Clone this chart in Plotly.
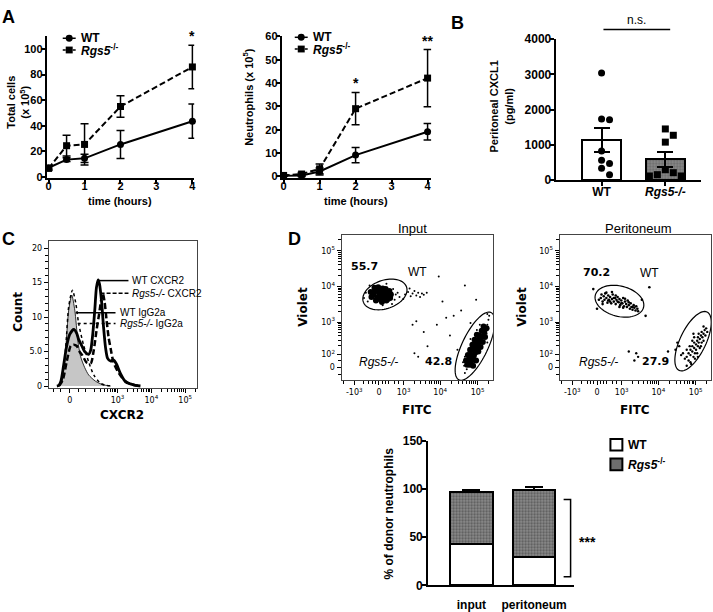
import math
import plotly.graph_objects as go

W, H = 713, 612
def PX(px): return px / W
def PY(py): return 1 - py / H

ARIAL = "Liberation Sans"
FLOW = "DejaVu Sans"

# ---------------- Data: panel A ----------------
time_hours = [0, 0.5, 1, 2, 4]
total_wt = [7.0, 13.4, 14.4, 25.3, 43.5]
total_wt_sem = [1.0, 1.5, 3.2, 11.0, 13.4]
total_ko = [6.5, 24.3, 25.3, 55.0, 86.0]
total_ko_sem = [1.5, 8.1, 16.2, 8.5, 17.0]
neut_wt = [0.3, 0.4, 2.1, 9.1, 19.1]
neut_wt_sem = [0.3, 0.5, 1.5, 3.3, 3.5]
neut_ko = [0.4, 1.0, 3.2, 29.0, 42.1]
neut_ko_sem = [0.3, 0.7, 2.1, 6.9, 12.3]

# ---------------- Data: panel B ----------------
cxcl1_groups = ["WT", "<i>Rgs5-/-</i>"]
cxcl1_mean = [1130, 590]
cxcl1_sem = [340, 210]
cxcl1_wt_points = [3040, 1730, 1710, 820, 560, 470, 330, 150]
cxcl1_ko_points = [1450, 1270, 1075, 290, 150, 112, 112, 206]

# ---------------- Data: panel C (display units of CXCR2 axis, counts) ----------------
igg_wt_t = [-0.35, -0.26, -0.21, -0.12, -0.03, 0.06, 0.15, 0.24, 0.32, 0.44, 0.56, 0.76, 0.97, 1.21]
igg_wt_count = [0, 0.3, 1.5, 5.4, 11, 13.2, 11, 6.6, 4.3, 2.7, 1.6, 0.7, 0.2, 0]
igg_ko_t = [-0.35, -0.26, -0.21, -0.12, -0.03, 0.08, 0.18, 0.26, 0.41, 0.56, 0.71, 0.91, 1.06, 1.26]
igg_ko_count = [0, 0.3, 1.5, 5.5, 11.5, 13.9, 12, 9.2, 5.9, 3.5, 1.6, 0.4, 0.1, 0]
cxcr2_wt_t = [-0.38, -0.32, -0.26, -0.18, -0.09, 0.0, 0.12, 0.21, 0.26, 0.35, 0.44, 0.56, 0.62, 0.68,
              0.74, 0.79, 0.84, 0.88, 0.94, 1.0, 1.06, 1.12, 1.21, 1.29, 1.38, 1.5, 1.65, 1.79, 1.94, 2.09]
cxcr2_wt_count = [0, 0.1, 0.7, 3, 5.8, 7.5, 8.2, 7.6, 6.8, 5.9, 5.0, 4.6, 5.2, 7.5, 11, 14.3, 15.4, 14.8,
                  12.3, 8.5, 5.5, 4.0, 3.6, 3.8, 3.2, 1.8, 0.6, 0.3, 0.1, 0]
cxcr2_ko_t = [-0.32, -0.21, -0.09, 0.03, 0.12, 0.21, 0.29, 0.38, 0.5, 0.62, 0.71, 0.79, 0.87, 0.93, 0.98,
              1.03, 1.09, 1.15, 1.21, 1.29, 1.41, 1.53, 1.65, 1.79, 1.94, 2.09]
cxcr2_ko_count = [0, 0.8, 3.5, 5.8, 6.0, 5.8, 5.0, 4.4, 3.4, 3.3, 5.2, 8, 10.5, 12.5, 13.4, 12.2, 9.5, 7,
                  5.4, 3.5, 2.2, 1.3, 0.7, 0.3, 0.1, 0]

# ---------------- Data: panel D dot plots (display units: FITC, Violet) ----------------
input_wt_core = [(-0.15, 2.05), (-0.1, 2.15), (-0.05, 1.95), (0.0, 2.1), (0.0, 2.0), (0.05, 2.18), (0.05, 1.9),
                 (0.1, 2.05), (0.12, 1.95), (0.15, 2.12), (0.2, 2.0), (0.2, 1.88), (0.25, 2.08), (-0.08, 1.88),
                 (0.3, 1.95), (0.1, 2.22), (-0.2, 1.98), (0.18, 2.2), (0.28, 2.15), (-0.02, 2.25),
                 (-0.22, 2.12), (0.32, 2.05), (0.08, 1.84), (-0.12, 2.24), (0.24, 1.92)]
input_wt_sparse = [(-0.35, 2.1), (-0.3, 1.85), (0.38, 2.2), (0.42, 1.9), (0.35, 1.78), (-0.25, 2.3), (0.1, 1.75),
                   (0.45, 2.05), (-0.4, 1.95), (0.2, 2.35), (0.5, 2.1), (0.55, 1.98), (0.7, 2.05), (0.78, 2.12),
                   (0.85, 2.0), (0.9, 2.08), (0.95, 2.15), (1.0, 2.02), (1.05, 2.1), (1.1, 1.98), (1.15, 2.08),
                   (1.2, 2.04), (1.28, 2.1), (0.82, 2.22), (0.65, 1.92), (1.6, 2.55), (1.7, 1.85), (1.55, 1.2),
                   (1.0, 1.3), (0.9, 1.2), (1.2, 1.0), (1.9, 0.9), (2.0, 1.45), (2.2, 1.6), (1.8, 1.4),
                   (1.3, 0.6), (0.95, 0.4), (1.05, 0.3), (2.3, 2.3), (2.45, 1.25), (2.6, 1.9), (2.9, 1.5), (2.1, 0.5)]
input_ko_core = [(2.36, 0.08), (2.43, 0.08), (2.4, 0.22), (2.48, 0.2), (2.46, 0.36), (2.54, 0.34), (2.52, 0.5),
                 (2.6, 0.48), (2.57, 0.62), (2.65, 0.6), (2.63, 0.76), (2.7, 0.74), (2.68, 0.9), (2.76, 0.88),
                 (2.75, 1.03), (2.82, 1.0), (2.5, 0.28), (2.58, 0.42), (2.62, 0.68), (2.7, 0.82), (2.44, 0.14),
                 (2.56, 0.55), (2.33, 0.2), (2.38, 0.35), (2.44, 0.5), (2.5, 0.64), (2.56, 0.78), (2.62, 0.92),
                 (2.66, 0.45), (2.72, 0.58), (2.78, 0.72), (2.84, 0.86), (2.6, 0.2), (2.52, 0.05), (2.88, 1.1),
                 (2.8, 1.15)]
input_ko_sparse = [(2.3, -0.15), (2.28, 0.05), (2.9, 1.2), (2.93, 1.34), (2.85, 1.15), (2.4, 0.45), (2.75, 0.55),
                   (2.88, 0.95), (2.5, 0.7), (2.3, 0.3), (2.95, 1.45), (2.8, 0.7), (2.35, -0.05), (2.62, 1.05),
                   (2.25, 0.15), (2.9, 0.7), (2.45, 0.8), (2.7, 1.2)]
perit_wt = [(0.1, 1.95), (0.12, 2.05), (0.15, 1.85), (0.18, 2.0), (0.2, 1.9), (0.22, 2.08), (0.25, 1.95),
            (0.28, 1.82), (0.3, 2.02), (0.32, 1.9), (0.35, 1.98), (0.38, 1.8), (0.4, 1.92), (0.42, 2.05),
            (0.45, 1.85), (0.48, 1.95), (0.5, 1.78), (0.52, 1.9), (0.55, 1.98), (0.58, 1.83), (0.6, 1.92),
            (0.62, 1.75), (0.65, 1.88), (0.68, 1.8), (0.7, 1.95), (0.72, 1.72), (0.75, 1.85), (0.78, 1.78),
            (0.8, 1.7), (0.82, 1.88), (0.85, 1.75), (0.88, 1.65), (0.9, 1.8), (0.92, 1.7), (0.95, 1.62),
            (0.98, 1.75), (1.0, 1.68), (1.03, 1.6), (1.05, 1.72), (1.08, 1.65), (1.1, 1.58), (0.3, 1.88),
            (0.45, 1.95), (0.55, 1.85), (0.65, 1.8), (0.25, 2.1), (0.35, 1.85), (0.5, 2.02), (0.6, 1.7),
            (0.75, 1.93), (0.05, 1.9), (0.15, 1.78), (0.4, 2.12), (0.85, 1.83), (0.7, 1.68), (0.95, 1.7),
            (1.4, 2.25), (-0.1, 2.2), (1.2, 1.9), (0.0, 1.65), (1.3, 1.45)]
perit_ko = [(2.4, 0.3), (2.45, 0.4), (2.5, 0.35), (2.5, 0.5), (2.55, 0.45), (2.55, 0.6), (2.6, 0.55), (2.6, 0.7),
            (2.62, 0.4), (2.65, 0.65), (2.65, 0.5), (2.68, 0.75), (2.7, 0.6), (2.7, 0.85), (2.72, 0.7),
            (2.75, 0.8), (2.75, 0.55), (2.78, 0.9), (2.8, 0.7), (2.8, 1.0), (2.82, 0.85), (2.85, 0.95),
            (2.85, 0.75), (2.88, 1.05), (2.9, 0.9), (2.45, 0.2), (2.5, 0.15), (2.58, 0.3), (2.68, 0.4),
            (2.72, 0.95), (2.6, 0.85), (2.92, 1.1), (2.4, 0.5), (2.35, 0.25), (2.55, 0.75), (2.78, 0.6),
            (2.62, 0.25), (2.7, 0.3), (2.48, 0.6), (2.95, 1.0), (2.3, 0.4), (2.58, 0.95), (2.85, 1.15),
            (2.4, 0.05), (2.52, 0.1), (2.2, 0.6), (2.1, 0.5), (2.15, 0.7), (1.9, 0.45), (2.25, 0.35),
            (1.05, 0.4), (1.1, 0.3), (1.0, 0.2), (0.85, 0.45)]
gate_pct = {"input_wt": "55.7", "input_ko": "42.8", "perit_wt": "70.2", "perit_ko": "27.9"}

# ---------------- Data: panel D bar chart ----------------
donor_groups = ["input", "peritoneum"]
donor_wt = [42.5, 29.5]
donor_wt_sem = [0.0, 1.0]
donor_ko = [54.9, 70.0]
donor_ko_sem = [1.2, 2.3]

# ---------------- transforms ----------------
LN10 = math.log(10)
def t_c(v): return math.asinh(v / (2 * 38.8)) / LN10
def t_fitc(v): return math.asinh(v / (2 * 229)) / LN10
def t_violet(v): return math.asinh(v / (2 * 53)) / LN10

fig = go.Figure()

def ebar(arr, w=4, th=1.5, minus=None):
    d = dict(type='data', array=arr, visible=True, color='black', thickness=th, width=w)
    if minus is not None:
        d.update(symmetric=False, arrayminus=minus)
    return d

DASH = "6px,3px"
# ---- A1
fig.add_trace(go.Scatter(x=time_hours, y=total_wt, error_y=ebar(total_wt_sem), mode='lines+markers',
                         line=dict(color='black', width=2), marker=dict(symbol='circle', size=7, color='black'),
                         cliponaxis=False, xaxis='x', yaxis='y'))
fig.add_trace(go.Scatter(x=time_hours, y=total_ko, error_y=ebar(total_ko_sem), mode='lines+markers',
                         line=dict(color='black', width=2, dash=DASH), marker=dict(symbol='square', size=7, color='black'),
                         cliponaxis=False, xaxis='x', yaxis='y'))
# ---- A2
fig.add_trace(go.Scatter(x=time_hours, y=neut_wt, error_y=ebar(neut_wt_sem), mode='lines+markers',
                         line=dict(color='black', width=2), marker=dict(symbol='circle', size=7, color='black'),
                         cliponaxis=False, xaxis='x2', yaxis='y2'))
fig.add_trace(go.Scatter(x=time_hours, y=neut_ko, error_y=ebar(neut_ko_sem), mode='lines+markers',
                         line=dict(color='black', width=2, dash=DASH), marker=dict(symbol='square', size=7, color='black'),
                         cliponaxis=False, xaxis='x2', yaxis='y2'))

# ---- B
PATTERN_GRAY = '#8c8c8c'
fig.add_trace(go.Bar(x=[0, 1], y=cxcl1_mean, width=0.62,
                     marker=dict(color=['white', PATTERN_GRAY], line=dict(color='black', width=2),
                                 pattern=dict(shape=['', '.'], fgcolor='#2a2a2a', size=3, solidity=0.45,
                                              fillmode='overlay')),
                     error_y=ebar(cxcl1_sem, w=8, th=2), xaxis='x3', yaxis='y3'))

B_YSCALE = 143.0 / 4000.0   # px per unit
B_XSCALE = 64.0             # px per category unit
def swarm(vals, d=8.0):
    placed = []
    offs = [0.0] * len(vals)
    order = sorted(range(len(vals)), key=lambda i: -vals[i])
    for i in order:
        y = vals[i] * B_YSCALE
        for k in [0, 1, -1, 2, -2, 3, -3]:
            x = k * d
            if all((x - px) ** 2 + (y - py) ** 2 >= d * d for px, py in placed):
                break
        placed.append((x, y))
        offs[i] = x / B_XSCALE
    return offs

wo = swarm(cxcl1_wt_points)
ko = swarm(cxcl1_ko_points)
fig.add_trace(go.Scatter(x=[0 + o for o in wo], y=cxcl1_wt_points, mode='markers',
                         marker=dict(symbol='circle', size=7, color='black'), cliponaxis=False,
                         xaxis='x3', yaxis='y3'))
fig.add_trace(go.Scatter(x=[1 + o for o in ko], y=cxcl1_ko_points, mode='markers',
                         marker=dict(symbol='square', size=7, color='black'), cliponaxis=False,
                         xaxis='x3', yaxis='y3'))

# ---- C
fig.add_trace(go.Scatter(x=igg_wt_t, y=igg_wt_count, mode='lines', fill='tozeroy', fillcolor='#c6c6c6',
                         line=dict(color='black', width=0.8, shape='spline', smoothing=0.7),
                         xaxis='x4', yaxis='y4'))
fig.add_trace(go.Scatter(x=igg_ko_t, y=igg_ko_count, mode='lines',
                         line=dict(color='black', width=1.5, dash='dot', shape='spline', smoothing=0.7),
                         xaxis='x4', yaxis='y4'))
fig.add_trace(go.Scatter(x=cxcr2_ko_t, y=cxcr2_ko_count, mode='lines',
                         line=dict(color='black', width=2.5, dash='6px,3px', shape='spline', smoothing=0.7),
                         xaxis='x4', yaxis='y4'))
fig.add_trace(go.Scatter(x=cxcr2_wt_t, y=cxcr2_wt_count, mode='lines',
                         line=dict(color='black', width=2.8, shape='spline', smoothing=0.7),
                         xaxis='x4', yaxis='y4'))

# ---- D dot plots
def dots(pts, size, xa, ya):
    return go.Scatter(x=[p[0] for p in pts], y=[p[1] for p in pts], mode='markers',
                      marker=dict(size=size, color='black', line=dict(width=0)), xaxis=xa, yaxis=ya)
fig.add_trace(dots(input_wt_core, 6, 'x5', 'y5'))
fig.add_trace(dots(input_wt_sparse, 2, 'x5', 'y5'))
fig.add_trace(dots(input_ko_core, 6, 'x5', 'y5'))
fig.add_trace(dots(input_ko_sparse, 2, 'x5', 'y5'))
fig.add_trace(dots(perit_wt, 2.6, 'x6', 'y6'))
fig.add_trace(dots(perit_ko, 2.4, 'x6', 'y6'))

# ---- D bar chart
fig.add_trace(go.Bar(x=[0, 1], y=donor_wt, width=0.68,
                     marker=dict(color='white', line=dict(color='black', width=2)),
                     error_y=ebar(donor_wt_sem, w=9, th=2, minus=[0, 0]), xaxis='x7', yaxis='y7'))
fig.add_trace(go.Bar(x=[0, 1], y=donor_ko, width=0.68,
                     marker=dict(color=PATTERN_GRAY, line=dict(color='black', width=2),
                                 pattern=dict(shape='.', fgcolor='#2a2a2a', size=3, solidity=0.45,
                                              fillmode='overlay')),
                     error_y=ebar(donor_ko_sem, w=9, th=2, minus=[0, 0]), xaxis='x7', yaxis='y7'))

# ---------------- axes ----------------
def prism(domain, rng, anchor, tickvals, ticktext=None, size=11, standoff=0):
    labels = ticktext if ticktext is not None else [str(v) for v in tickvals]
    d = dict(domain=domain, range=rng, anchor=anchor, showline=True, linewidth=2, linecolor='black',
             ticks='outside', ticklen=4, tickwidth=2, tickcolor='black', showgrid=False, zeroline=False,
             tickmode='array', tickvals=tickvals, ticktext=["<b>%s</b>" % s for s in labels],
             ticklabelstandoff=standoff,
             tickfont=dict(family=ARIAL, size=size, color='black'))
    return d

def flow(domain, rng, anchor, major_v, major_text, minor_v):
    return dict(domain=domain, range=rng, anchor=anchor, showline=True, linewidth=1, linecolor='#444',
                mirror=True, ticks='outside', ticklen=4, tickwidth=1, tickcolor='black', showgrid=False,
                zeroline=False, tickmode='array', tickvals=major_v, ticktext=major_text,
                minor=dict(tickmode='array', tickvals=minor_v, ticklen=2.5, tickwidth=1, tickcolor='black',
                           ticks='outside', showgrid=False),
                tickfont=dict(family=FLOW, size=8, color='black'))

def sup(e): return "10<sup>%d</sup>" % e

c_major = [0, 1e3, 1e4, 1e5]
c_minor = [-300, -200, -100, -50, 50, 100, 200, 300, 400, 500, 600, 700, 800, 900] + \
          [k * 1e3 for k in range(2, 10)] + [k * 1e4 for k in range(2, 10)] + [2e5]
fitc_major = [-1e3, 0, 1e3, 1e4, 1e5]
fitc_minor = [-2000, -500, -300, -200, -100, 100, 200, 300, 500, 700] + \
             [k * 1e3 for k in range(2, 10)] + [k * 1e4 for k in range(2, 10)] + [2e5]
vio_major = [-1e2, 0, 1e2, 1e3, 1e4, 1e5]
vio_minor = [-50, 50] + [k * 1e2 for k in range(2, 10)] + [k * 1e3 for k in range(2, 10)] + \
            [k * 1e4 for k in range(2, 10)] + [2e5]

layout = dict(
    width=W, height=H, margin=dict(l=0, r=0, t=0, b=0), paper_bgcolor='white', plot_bgcolor='white',
    showlegend=False, barmode='stack',
    xaxis=prism([PX(46), PX(194)], [-0.05, 4.05], 'y', [0, 1, 2, 3, 4], standoff=-7),
    yaxis=prism([PY(175), PY(30)], [-1, 110], 'x', [0, 20, 40, 60, 80, 100], standoff=-4),
    xaxis2=prism([PX(282), PX(432)], [-0.05, 4.1], 'y2', [0, 1, 2, 3, 4], standoff=-7),
    yaxis2=prism([PY(175), PY(30)], [-0.7, 60], 'x2', [0, 10, 20, 30, 40, 50, 60], standoff=-4),
    xaxis3=prism([PX(557), PX(703)], [-0.72, 1.56], 'y3', [0, 1], cxcl1_groups, size=12, standoff=-4),
    yaxis3=prism([PY(177), PY(33)], [0, 4000], 'x3', [0, 1000, 2000, 3000, 4000], size=12, standoff=-4),
    xaxis4=flow([PX(48), PX(197)], [-0.618, 3.765], 'y4', [t_c(v) for v in c_major],
                ["0", sup(3), sup(4), sup(5)], [t_c(v) for v in c_minor]),
    yaxis4=flow([PY(390), PY(239)], [-0.3, 21.1], 'x4', [0, 5, 10, 15, 20],
                ["0", "5.0", "10", "15", "20"], list(range(1, 21))),
    xaxis5=flow([PX(342), PX(494)], [-1.0, 3.05], 'y5', [t_fitc(v) for v in fitc_major],
                ["-" + sup(3), "0", sup(3), sup(4), sup(5)], [t_fitc(v) for v in fitc_minor]),
    yaxis5=flow([PY(382), PY(233)], [-0.356, 3.726], 'x5', [t_violet(v) for v in vio_major],
                ["-" + sup(2), "0", sup(2), sup(3), sup(4), sup(5)], [t_violet(v) for v in vio_minor]),
    xaxis6=flow([PX(561), PX(713)], [-1.0, 3.05], 'y6', [t_fitc(v) for v in fitc_major],
                ["-" + sup(3), "0", sup(3), sup(4), sup(5)], [t_fitc(v) for v in fitc_minor]),
    yaxis6=flow([PY(382), PY(233)], [-0.356, 3.726], 'x6', [t_violet(v) for v in vio_major],
                ["-" + sup(2), "0", sup(2), sup(3), sup(4), sup(5)], [t_violet(v) for v in vio_minor]),
    xaxis7=prism([PX(429), PX(575)], [-0.69, 1.63], 'y7', [0, 1], donor_groups, size=12, standoff=7),
    yaxis7=prism([PY(592), PY(444)], [0, 150], 'x7', [0, 50, 100, 150], size=12, standoff=-3),
)
layout['xaxis7']['ticks'] = ''
fig.update_layout(**layout)

# ---------------- shapes & annotations ----------------
shapes = []
ann = []

def text(px, py, s, size=11, family=ARIAL, xanchor='center', yanchor='middle', angle=0, bold=False, italic=False):
    if bold:
        s = "<b>" + s + "</b>"
    if italic:
        s = "<i>" + s + "</i>"
    ann.append(dict(x=PX(px), y=PY(py), xref='paper', yref='paper', text=s, showarrow=False,
                    xanchor=xanchor, yanchor=yanchor, textangle=angle,
                    font=dict(family=family, size=size, color='black')))

def line(x0, y0, x1, y1, width=1.5, dash='solid'):
    shapes.append(dict(type='line', xref='paper', yref='paper', x0=PX(x0), y0=PY(y0), x1=PX(x1), y1=PY(y1),
                       line=dict(color='black', width=width, dash=dash)))

def box(cx, cy, w, h, kind='rect', fill='black', lw=0):
    shapes.append(dict(type=kind, xref='paper', yref='paper', x0=PX(cx - w / 2), x1=PX(cx + w / 2),
                       y0=PY(cy + h / 2), y1=PY(cy - h / 2), fillcolor=fill,
                       line=dict(color='black', width=lw)))

# panel letters
text(8, 10, "A", size=18, bold=True)
text(458, 16, "B", size=18, bold=True)
text(8, 237, "C", size=18, bold=True)
text(295, 237, "D", size=18, bold=True)

# A legends
for (lx, ly) in [(62, 32), (295, 31)]:
    line(lx, ly, lx + 13, ly, width=1.5)
    box(lx + 6.5, ly, 7, 7, kind='circle')
    text(lx + 16, ly, "WT", size=12, bold=True, xanchor='left')
    line(lx, ly + 12, lx + 13, ly + 12, width=1.5, dash='3px,2px')
    box(lx + 6.5, ly + 12, 7, 7, kind='rect')
    text(lx + 16, ly + 12, "<i>Rgs5</i><sup>-/-</sup>", size=12, bold=True, xanchor='left')

# A titles
text(17, 97, "Total cells<br>(x 10<sup>5</sup>)", size=11, bold=True, angle=-90)
text(248, 92, "Neutrophils (x 10<sup>5</sup>)", size=11, bold=True, angle=-90)
text(120, 199, "time (hours)", size=11, bold=True)
text(357, 199, "time (hours)", size=11, bold=True)
text(192, 30, "*", size=14, bold=True)
text(357, 78, "*", size=14, bold=True)
text(428, 35, "**", size=14, bold=True)

# B extras
text(502, 102, "Peritoneal CXCL1<br>(pg/ml)", size=11, bold=True, angle=-90)
line(605, 23, 672, 23, width=1.5)
text(638, 13, "n.s.", size=12)

# C extras
text(17, 312, "Count", size=12, family=FLOW, bold=True, angle=-90)
text(122, 418, "CXCR2", size=12, family=FLOW, bold=True)
line(98, 280, 128, 280, width=1.5)
text(130, 280, "WT CXCR2", size=10, xanchor='left')
line(100, 293, 128, 293, width=1.5, dash='4px,2px')
text(130, 293, "<i>Rgs5-/-</i> CXCR2", size=10, xanchor='left')
line(75, 313, 115, 313, width=1.5)
text(117, 313, "WT IgG2a", size=10, xanchor='left')
line(77, 324, 115, 324, width=1.5, dash='dot')
text(117, 324, "<i>Rgs5-/-</i> IgG2a", size=10, xanchor='left')

# D dot plots extras
text(413, 227, "Input", size=13)
text(640, 227, "Peritoneum", size=13)
for cx in (303, 523):
    text(cx, 307, "Violet", size=12, family=FLOW, bold=True, angle=-90)
text(418, 412, "FITC", size=12, family=FLOW, bold=True)
text(637, 412, "FITC", size=12, family=FLOW, bold=True)
text(365, 266, gate_pct["input_wt"], size=11, family=FLOW, bold=True)
text(418, 271, "WT", size=12)
text(379, 363, "Rgs5-/-", size=12, italic=True)
text(439, 363, gate_pct["input_ko"], size=11, family=FLOW, bold=True)
text(598, 272, gate_pct["perit_wt"], size=11, family=FLOW, bold=True)
text(651, 272, "WT", size=12)
text(600, 363, "Rgs5-/-", size=12, italic=True)
text(657, 363, gate_pct["perit_ko"], size=11, family=FLOW, bold=True)

SX, SY = 37.5, 36.5
def ellipse_path(cx, cy, a, b, ang_deg, n=72):
    ang = math.radians(ang_deg)
    pts = []
    for i in range(n):
        th = 2 * math.pi * i / n
        dx = a * math.cos(th) * math.cos(ang) - b * math.sin(th) * math.sin(ang)
        dy = a * math.cos(th) * math.sin(ang) + b * math.sin(th) * math.cos(ang)
        pts.append((cx + dx / SX, cy + dy / SY))
    return "M " + " L ".join("%.4f,%.4f" % p for p in pts) + " Z"

gates = [('x5', 'y5', 0.16, 2.05, 23, 14.5, 20), ('x5', 'y5', 2.57, 0.60, 38, 13, 65),
         ('x6', 'y6', 0.60, 1.86, 25, 15.5, -15), ('x6', 'y6', 2.57, 0.74, 33, 13, 65)]
for xa, ya, cx, cy, a, b, g in gates:
    shapes.append(dict(type='path', xref=xa, yref=ya, path=ellipse_path(cx, cy, a, b, g),
                       line=dict(color='black', width=1.2), fillcolor='rgba(0,0,0,0)'))

# D bar chart extras
text(390, 518, "% of donor neutrophils", size=12, bold=True, angle=-90)
shapes.append(dict(type='path', xref='paper', yref='paper',
                   path="M %f,%f L %f,%f L %f,%f L %f,%f" % (PX(565), PY(504), PX(572), PY(504),
                                                             PX(572), PY(583), PX(565), PY(583)),
                   line=dict(color='black', width=1.5)))
text(589, 548, "***", size=14, bold=True)
box(618, 448, 12, 12, kind='rect', fill='white', lw=2)
text(628, 448, "WT", size=12, bold=True, xanchor='left')
box(618, 468, 12, 12, kind='rect', fill='#6e6e6e', lw=2)
text(628, 468, "<i>Rgs5</i><sup>-/-</sup>", size=12, bold=True, xanchor='left')

fig.update_layout(shapes=shapes, annotations=ann)
POST = ("document.documentElement.style.margin='0';document.body.style.margin='0';"
        "document.body.style.padding='0';document.body.style.overflow='hidden';"
        "var g=document.querySelector('.plotly-graph-div');"
        "g.style.position='absolute';g.style.left='0px';g.style.top='0px';")
fig.write_html("out.html", config={'displayModeBar': False}, post_script=POST)
